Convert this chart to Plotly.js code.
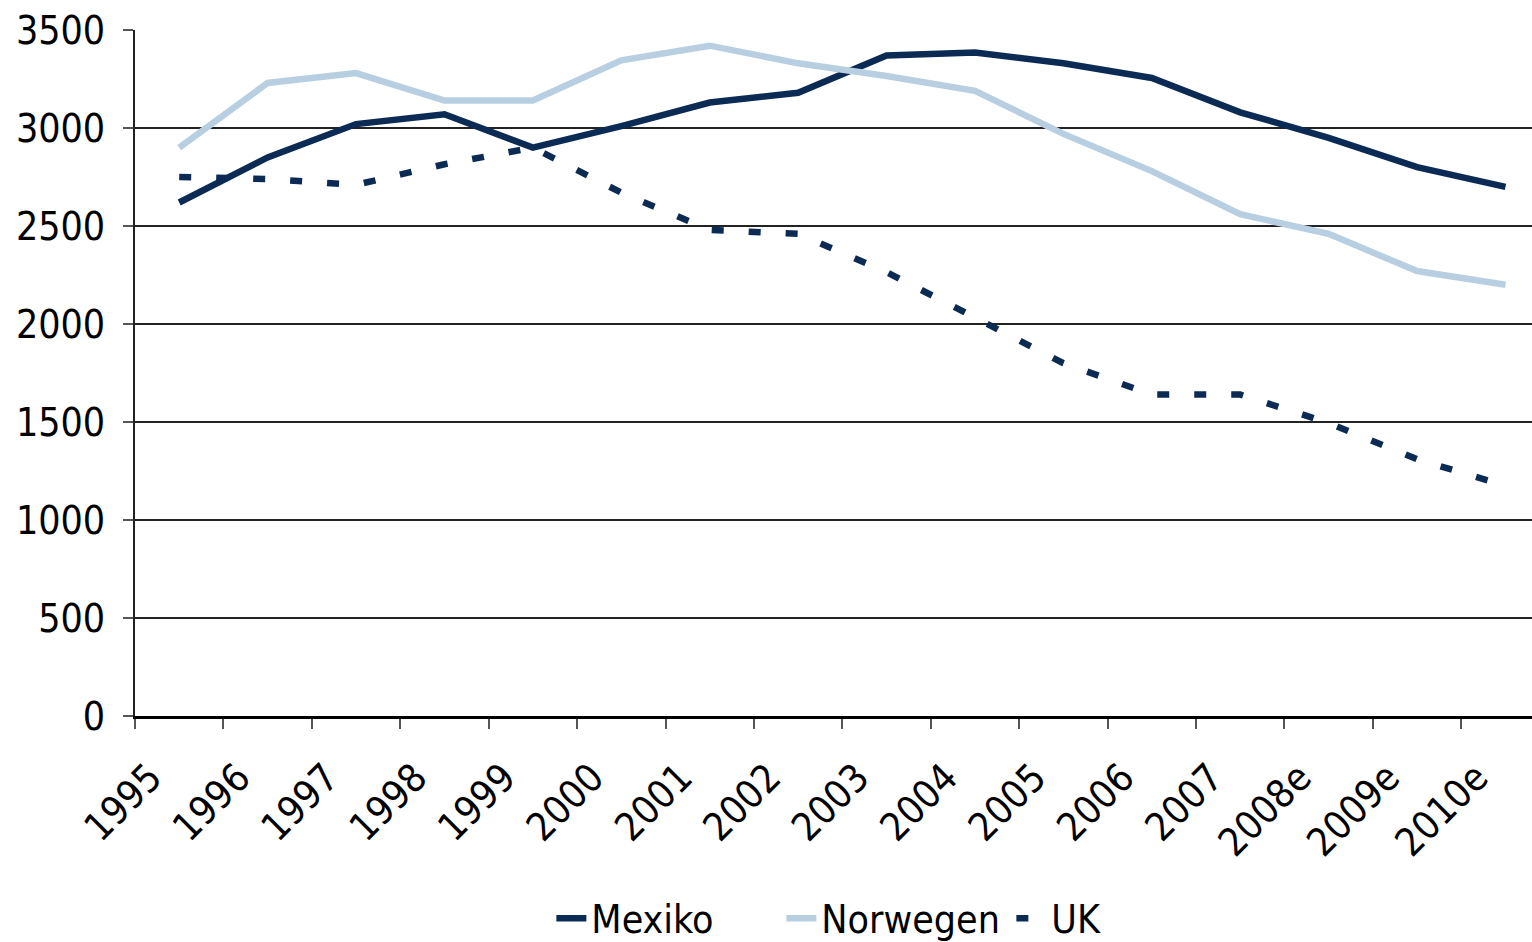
<!DOCTYPE html>
<html><head><meta charset="utf-8">
<script src="https://cdn.plot.ly/plotly-3.0.1.min.js"></script>
<style>html,body{margin:0;padding:0;background:#fff;overflow:hidden}</style>
</head><body><div id="chart" style="width:1532px;height:942px"></div>
<script>
const years = ["1995","1996","1997","1998","1999","2000","2001","2002","2003","2004","2005","2006","2007","2008e","2009e","2010e"];
const mexiko = [2620,2850,3020,3070,2900,3010,3130,3180,3370,3385,3330,3255,3080,2950,2800,2700];
const norwegen = [2900,3230,3280,3140,3140,3345,3420,3330,3265,3190,2970,2780,2560,2460,2270,2200];
const uk = [2750,2740,2710,2815,2900,2670,2480,2460,2265,2030,1800,1640,1640,1495,1310,1175];

const fontFam = "'DejaVu Sans Condensed', 'Liberation Sans Narrow', sans-serif";
const dark = "#0b2b55", light = "#b8cfe2";
const traces = [
  {x: years, y: mexiko, name: "Mexiko", type: "scatter", mode: "lines", line: {color: dark, width: 6.5}},
  {x: years, y: norwegen, name: "Norwegen", type: "scatter", mode: "lines", line: {color: light, width: 6.5}},
  {x: years, y: uk, name: "UK", type: "scatter", mode: "lines", line: {color: dark, width: 6.5, dash: "12px,25px"}}
];
const layout = {
  width: 1532, height: 942,
  margin: {l: 135, r: 0, t: 30, b: 226, autoexpand: false},
  paper_bgcolor: "#fff", plot_bgcolor: "#fff",
  font: {family: fontFam, size: 39, color: "#000"},
  showlegend: true,
  legend: {orientation: "h", x: 0.545, xanchor: "center", y: -0.295, yanchor: "middle",
           font: {family: fontFam, size: 39, color: "#000"}, traceorder: "normal", entrywidth: 185},
  xaxis: {type: "category", range: [-0.5, 15.3], tickangle: -45, tickson: "boundaries", automargin: false,
          ticks: "outside", ticklen: 10, tickcolor: "#555", tickwidth: 2, ticklabelstandoff: 20, ticklabelshift: -29,
          showline: true, linecolor: "#000", linewidth: 3, showgrid: false, zeroline: false,
          tickfont: {family: fontFam, size: 39, color: "#000"}},
  yaxis: {range: [0, 3500], dtick: 500, tick0: 0, ticks: "outside", ticklen: 10, tickcolor: "#555", tickwidth: 2,
          ticklabelstandoff: 10, automargin: false,
          showline: true, linecolor: "#222", linewidth: 2, showgrid: true, gridcolor: "#222", gridwidth: 1.2,
          zeroline: false, tickfont: {family: fontFam, size: 39, color: "#000"}}
};
Plotly.newPlot("chart", traces, layout, {displayModeBar: false, staticPlot: true});
</script></body></html>
